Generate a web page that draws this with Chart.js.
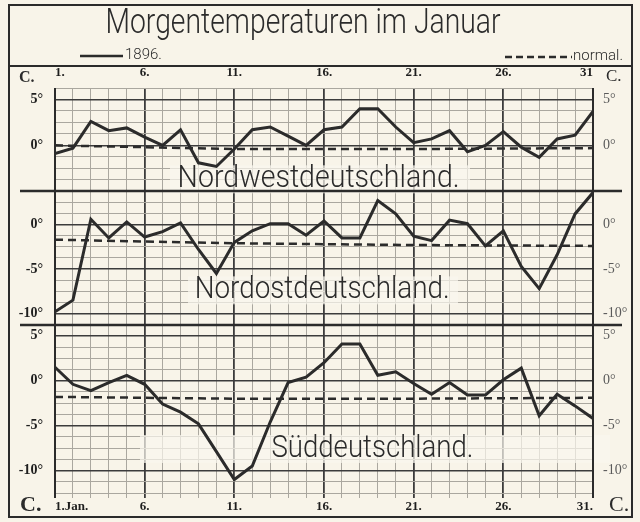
<!DOCTYPE html>
<html lang="de">
<head>
<meta charset="utf-8">
<title>Morgentemperaturen im Januar 1896</title>
<script src="https://cdn.jsdelivr.net/npm/chart.js@4.4.1/dist/chart.umd.min.js"></script>
<style>
  html, body { margin: 0; padding: 0; background: #f8f4e9; }
  #box { width: 640px; height: 522px; }
</style>
</head>
<body>
<div id="box"><canvas id="januar" width="640" height="522"></canvas></div>
<script>
// Tage im Januar
const days = [1, 2, 3, 4, 5, 6, 7, 8, 9, 10, 11, 12, 13, 14, 15, 16, 17, 18, 19, 20, 21, 22, 23, 24, 25, 26, 27, 28, 29, 30, 31];
const dayTicks = [1, 6, 11, 16, 21, 26, 31];
const topDayLabels = ["1.", "6.", "11.", "16.", "21.", "26.", "31"];
const bottomDayLabels = ["1.Jan.", "6.", "11.", "16.", "21.", "26.", "31."];

// Morgentemperaturen 1896 (°C)
const nordwest = [-0.9, -0.3, 2.6, 1.6, 1.9, 0.9, 0.0, 1.7, -1.9, -2.3, -0.4, 1.7, 2.0, 1.0, 0.0, 1.7, 2.0, 4.0, 4.0, 2.0, 0.3, 0.7, 1.6, -0.7, 0.0, 1.5, -0.2, -1.3, 0.7, 1.1, 3.7];
const nordost = [-9.8, -8.5, 0.6, -1.5, 0.3, -1.4, -0.8, 0.2, -2.8, -5.5, -2.0, -0.7, 0.1, 0.1, -1.2, 0.4, -1.5, -1.5, 2.7, 1.2, -1.3, -1.8, 0.5, 0.1, -2.4, -0.7, -4.7, -7.2, -3.4, 1.2, 3.6];
const sued = [1.5, -0.4, -1.1, -0.2, 0.6, -0.4, -2.6, -3.5, -4.8, -7.9, -11.0, -9.5, -4.6, -0.2, 0.4, 2.0, 4.1, 4.1, 0.6, 1.0, -0.3, -1.5, -0.2, -1.6, -1.6, 0.1, 1.4, -3.9, -1.5, -2.8, -4.2];

// Normalwerte
const normalDays = [1, 11, 21, 31];
const normalNordwest = [0.0, -0.4, -0.4, -0.3];
const normalNordost = [-1.7, -2.1, -2.3, -2.4];
const normalSued = [-1.8, -2.0, -2.0, -1.9];

// beschriftete Gradzahlen je Feld
const nwLabels = [5, 0];
const noLabels = [0, -5, -10];
const sdLabels = [5, 0, -5, -10];

const ink = "#2b2b2b";
const paper = "#f8f4e9";
const handFont = 'Roboto, "Open Sans", "DejaVu Sans", sans-serif';
const tickFont = '"Liberation Serif", "DejaVu Serif", serif';

function series(values, axis) {
    return {
        yAxisID: axis,
        data: days.map((d, i) => ({ x: d, y: values[i] })),
        borderColor: ink,
        borderWidth: 3,
        pointRadius: 0,
        tension: 0,
    };
}

function normal(values, axis) {
    return {
        yAxisID: axis,
        data: normalDays.map((d, i) => ({ x: d, y: values[i] })),
        borderColor: ink,
        borderWidth: 2.5,
        borderDash: [8, 5],
        pointRadius: 0,
        tension: 0,
    };
}

function yAxis(side, min, max, stackWeight, weight, labels) {
    const left = side === "left";
    return {
        type: "linear",
        position: side,
        stack: side,
        stackWeight: stackWeight,
        weight: weight,
        min: min,
        max: max,
        border: { display: false },
        grid: {
            display: left,
            drawTicks: false,
            color: (c) => (c.tick.value % 5 === 0 ? "#3c3c3c" : "#aaa79f"),
            lineWidth: (c) => (c.tick.value % 5 === 0 ? 1.6 : 1),
        },
        ticks: {
            stepSize: 1.25,
            autoSkip: false,
            padding: left ? 12 : 10,
            color: left ? "#1e1e1e" : "#5a5a5a",
            font: { family: tickFont, size: 14, weight: left ? "bold" : "normal" },
            callback: (v) => (labels.includes(v) ? v + "°" : ""),
        },
        afterFit: (s) => {
            s.width = left ? 45 : 47;
        },
    };
}

function xAxis(side, labels) {
    const bottom = side === "bottom";
    return {
        type: "linear",
        position: side,
        min: 1,
        max: 31,
        border: { display: false },
        grid: {
            display: bottom,
            tickLength: 5,
            color: (c) => (dayTicks.includes(c.tick.value) ? "#3c3c3c" : "#aaa79f"),
            lineWidth: (c) => (dayTicks.includes(c.tick.value) ? 1.8 : 1),
        },
        ticks: {
            stepSize: 1,
            autoSkip: false,
            maxRotation: 0,
            align: "inner",
            padding: bottom ? 1 : 3,
            color: "#1e1e1e",
            font: { family: tickFont, size: 13, weight: "bold" },
            callback: (v) => {
                const i = dayTicks.indexOf(v);
                return i < 0 ? "" : labels[i];
            },
        },
        afterFit: (s) => {
            s.height = bottom ? 24 : 22;
        },
    };
}

function fitText(ctx, text, cx, cy, width, size) {
    ctx.save();
    ctx.font = "300 " + size + "px " + handFont;
    const w = ctx.measureText(text).width;
    ctx.translate(cx, cy);
    ctx.scale(width / w, 1);
    ctx.textAlign = "center";
    ctx.textBaseline = "middle";
    ctx.fillStyle = ink;
    ctx.fillText(text, 0, 0);
    ctx.restore();
}

const panelNames = [
    { text: "Nordwestdeutschland.", axis: "yNW", day: 15.7, value: -3.7, width: 282, size: 31, band: [170, 470] },
    { text: "Nordostdeutschland.", axis: "yNO", day: 15.9, value: -7.4, width: 255, size: 31, band: [188, 458] },
    { text: "Süddeutschland.", axis: "ySD", day: 18.7, value: -7.6, width: 202, size: 31, band: [140, 610] },
];

const zeichnung = {
    id: "zeichnung",
    beforeDraw(chart) {
        const ctx = chart.ctx;
        ctx.save();
        ctx.fillStyle = paper;
        ctx.fillRect(0, 0, chart.width, chart.height);
        ctx.restore();
    },
    beforeDatasetsDraw(chart) {
        const ctx = chart.ctx;
        const x = chart.scales.x;
        panelNames.forEach((p) => {
            const cx = x.getPixelForValue(p.day);
            const cy = chart.scales[p.axis].getPixelForValue(p.value);
            ctx.save();
            ctx.fillStyle = "rgba(250, 247, 238, 0.7)";
            ctx.fillRect(p.band[0], cy - 14, p.band[1] - p.band[0], 28);
            ctx.restore();
            fitText(ctx, p.text, cx, cy, p.width, p.size);
        });
    },
    afterDraw(chart) {
        const ctx = chart.ctx;
        const area = chart.chartArea;
        ctx.save();
        ctx.strokeStyle = ink;

        // Rahmen
        ctx.lineWidth = 2;
        ctx.strokeRect(9, 5, 623, 512);
        ctx.beginPath();
        ctx.moveTo(9, 66);
        ctx.lineTo(632, 66);
        ctx.stroke();

        // Trennlinien zwischen den Feldern
        ctx.lineWidth = 2.5;
        ["yNW", "yNO"].forEach((id) => {
            const y = Math.round(chart.scales[id].bottom);
            ctx.beginPath();
            ctx.moveTo(20, y);
            ctx.lineTo(622, y);
            ctx.stroke();
        });

        // Rand links und rechts
        ctx.lineWidth = 2;
        ctx.beginPath();
        ctx.moveTo(area.left, area.top);
        ctx.lineTo(area.left, area.bottom + 5);
        ctx.moveTo(area.right, area.top);
        ctx.lineTo(area.right, area.bottom + 5);
        ctx.stroke();

        // Titel
        fitText(ctx, "Morgentemperaturen im Januar", 303, 24, 395, 35);

        // Legende
        ctx.lineWidth = 2.5;
        ctx.beginPath();
        ctx.moveTo(80, 56);
        ctx.lineTo(123, 56);
        ctx.stroke();
        ctx.setLineDash([7, 4]);
        ctx.beginPath();
        ctx.moveTo(505, 57);
        ctx.lineTo(572, 57);
        ctx.stroke();
        ctx.setLineDash([]);
        ctx.fillStyle = ink;
        ctx.textBaseline = "middle";
        ctx.textAlign = "left";
        ctx.font = "300 15px " + handFont;
        ctx.fillText("1896.", 125, 55);
        ctx.fillText("normal.", 573, 56);

        // Einheit
        ctx.font = "bold 16px " + tickFont;
        ctx.fillText("C.", 19, 78);
        ctx.font = "17px " + tickFont;
        ctx.fillText("C.", 606, 77);
        ctx.font = "bold 22px " + tickFont;
        ctx.fillText("C.", 20, 505);
        ctx.font = "22px " + tickFont;
        ctx.fillText("C.", 609, 505);
        ctx.restore();
    },
};

new Chart(document.getElementById("januar"), {
    type: "line",
    data: {
        datasets: [
            series(nordwest, "yNW"),
            normal(normalNordwest, "yNW"),
            series(nordost, "yNO"),
            normal(normalNordost, "yNO"),
            series(sued, "ySD"),
            normal(normalSued, "ySD"),
        ],
    },
    options: {
        responsive: false,
        animation: false,
        layout: { padding: { top: 66, left: 10, right: 0, bottom: 5 } },
        plugins: { legend: { display: false }, tooltip: { enabled: false } },
        scales: {
            x: xAxis("bottom", bottomDayLabels),
            xTop: xAxis("top", topDayLabels),
            yNW: yAxis("left", -5, 6.25, 103, 3, nwLabels),
            yNO: yAxis("left", -11.25, 3.75, 133, 2, noLabels),
            ySD: yAxis("left", -12.5, 6.25, 168, 1, sdLabels),
            rNW: yAxis("right", -5, 6.25, 103, 1, nwLabels),
            rNO: yAxis("right", -11.25, 3.75, 133, 2, noLabels),
            rSD: yAxis("right", -12.5, 6.25, 168, 3, sdLabels),
        },
    },
    plugins: [zeichnung],
});
</script>
</body>
</html>
